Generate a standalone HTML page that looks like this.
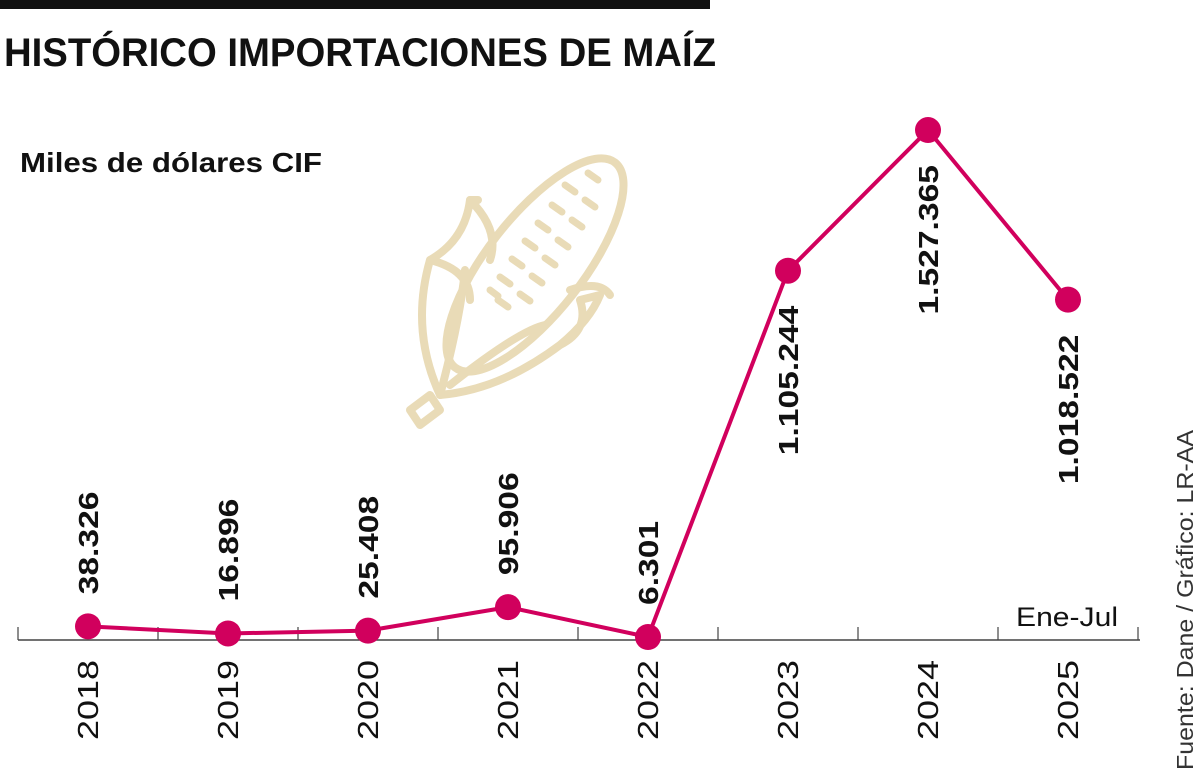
<!DOCTYPE html>
<html><head><meta charset="utf-8"><style>
body{margin:0;background:#fff;}
svg{display:block;font-family:"Liberation Sans",sans-serif;}
</style></head><body>
<svg width="1200" height="779" viewBox="0 0 1200 779">
<rect x="0" y="0" width="710" height="9" fill="#111"/>
<text x="4" y="66" font-size="40" font-weight="bold" fill="#111" textLength="712" lengthAdjust="spacingAndGlyphs">HISTÓRICO IMPORTACIONES DE MAÍZ</text>
<text x="20" y="172" font-size="28" font-weight="bold" fill="#111" textLength="302" lengthAdjust="spacingAndGlyphs">Miles de dólares CIF</text>
<g fill="none" stroke="#e9dbb7" stroke-width="8" stroke-linecap="round" stroke-linejoin="round">
<ellipse cx="535" cy="265" rx="48" ry="130" transform="rotate(38 535 265)"/>
<path d="M478 200 L470 200 Q465 240 430 260 Q410 330 440 395 Q500 390 560 345 Q590 320 600 295 L580 300 Q590 330 560 345"/>
<path d="M440 395 Q460 320 465 270 M450 385 Q520 330 545 325"/>
<path d="M430 395 L410 410 L420 425 L440 410 Z"/>
<path d="M470 200 Q500 230 490 260 M430 260 Q470 270 470 300"/>
<path d="M570 290 Q600 280 610 295"/>
</g>
<g stroke="#e9dbb7" stroke-width="7" stroke-linecap="round">
<line x1="588" y1="173" x2="598" y2="180"/><line x1="565" y1="185" x2="575" y2="192"/><line x1="585" y1="200" x2="595" y2="207"/>
<line x1="552" y1="205" x2="562" y2="212"/><line x1="572" y1="220" x2="582" y2="227"/><line x1="538" y1="223" x2="548" y2="230"/>
<line x1="558" y1="240" x2="568" y2="247"/><line x1="525" y1="241" x2="535" y2="248"/><line x1="545" y1="258" x2="555" y2="265"/>
<line x1="512" y1="259" x2="522" y2="266"/><line x1="532" y1="276" x2="542" y2="283"/><line x1="500" y1="277" x2="510" y2="284"/>
<line x1="520" y1="294" x2="530" y2="301"/><line x1="498" y1="300" x2="508" y2="307"/><line x1="490" y1="290" x2="498" y2="296"/>
</g>
<g id="axis"></g>
<g id="plot"></g>
<text x="1118" y="626" font-size="27" fill="#111" text-anchor="end" textLength="102" lengthAdjust="spacingAndGlyphs">Ene-Jul</text>
<text transform="translate(1193,770) rotate(-90)" font-size="23" fill="#333" textLength="340" lengthAdjust="spacingAndGlyphs">Fuente: Dane / Gráfico: LR-AA</text>
</svg>
<script>
const categories = ["2018","2019","2020","2021","2022","2023","2024","2025"];
const values = [38.326, 16.896, 25.408, 95.906, 6.301, 1105.244, 1527.365, 1018.522];
const valueLabels = ["38.326","16.896","25.408","95.906","6.301","1.105.244","1.527.365","1.018.522"];

const NS = "http://www.w3.org/2000/svg";
const x = i => 88 + i * 140;
const y = v => 639.1 - v * 0.3333;
const axis = document.getElementById('axis');
const plot = document.getElementById('plot');
function mk(tag, attrs, parent){const e=document.createElementNS(NS,tag);for(const k in attrs)e.setAttribute(k,attrs[k]);parent.appendChild(e);return e;}

const base = mk('line',{x1:18,y1:640,x2:1140,y2:640,stroke:'#444','stroke-width':1.5},axis);


for(let i=0;i<=categories.length;i++){
  const t = mk('line',{x1:x(i)-70,y1:627,x2:x(i)-70,y2:640,stroke:'#444','stroke-width':1.2},axis);
  
  
}
categories.forEach((c,i)=>{
  const t = mk('text',{transform:`translate(${x(i)+10},740) rotate(-90)`,'font-size':29,fill:'#111',textLength:80,lengthAdjust:'spacingAndGlyphs'},axis);
  t.textContent=c;
  
  
});
const pts = values.map((v,i)=>x(i)+','+y(v)).join(' ');
const line = mk('polyline',{points:pts,fill:'none',stroke:'#d1005d','stroke-width':4,'stroke-linejoin':'round'},plot);


values.forEach((v,i)=>{
  const c = mk('circle',{cx:x(i),cy:y(v),r:13,fill:'#d1005d'},plot);
  
  
  const big = v > 500;
  const ty = big ? y(v)+35 : y(v)-32;
  const t = mk('text',{transform:`translate(${x(i)+10},${ty}) rotate(-90)`,'font-size':28,'font-weight':'bold',fill:'#111','text-anchor':big?'end':'start',lengthAdjust:'spacingAndGlyphs'},plot);
  t.textContent = valueLabels[i];
  t.setAttribute('textLength', (t.getComputedTextLength()*1.2).toFixed(1));
  
  
});
</script>
</body></html>
